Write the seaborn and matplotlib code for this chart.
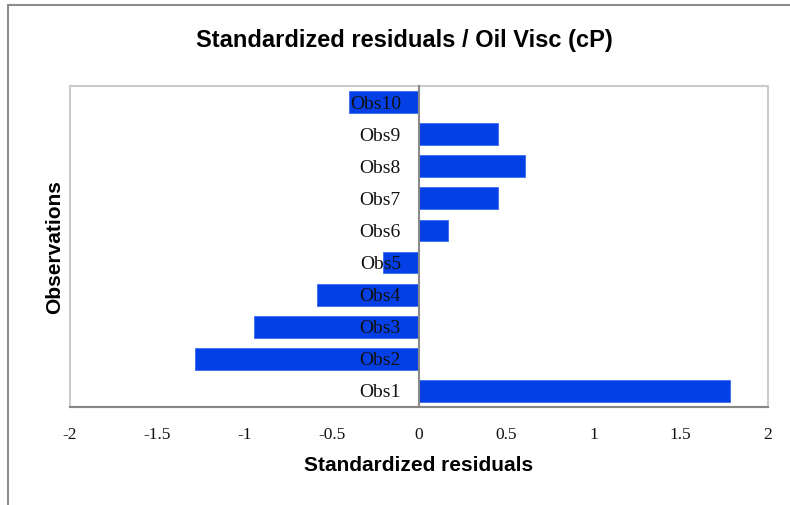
import matplotlib
matplotlib.use("Agg")
import matplotlib.pyplot as plt
from matplotlib.patches import Rectangle
from matplotlib.lines import Line2D
import pandas as pd
import seaborn as sns

observations = ["Obs1", "Obs2", "Obs3", "Obs4", "Obs5",
                "Obs6", "Obs7", "Obs8", "Obs9", "Obs10"]
residuals = [1.782, -1.284, -0.944, -0.586, -0.208,
             0.166, 0.455, 0.606, 0.451, -0.403]
xticks = [-2, -1.5, -1, -0.5, 0, 0.5, 1, 1.5, 2]
xticklabels = ["-2", "-1.5", "-1", "-0.5", "0", "0.5", "1", "1.5", "2"]

df = pd.DataFrame({"obs": observations, "res": residuals})

sns.set_theme(style="white")
plt.rcParams["font.family"] = ["Liberation Sans", "DejaVu Sans"]
plt.rcParams["text.color"] = "black"

fig = plt.figure(figsize=(7.9, 5.05), dpi=100)
ax = fig.add_axes([70 / 790, 98 / 505, 698 / 790, 321 / 505])

sns.barplot(data=df, x="res", y="obs", orient="h", order=observations[::-1],
            color="#0540E6", saturation=1, width=0.68,
            edgecolor="#3a6cf0", linewidth=0.6, ax=ax)

ax.set_axisbelow(False)
ax.set_xlim(-2, 2)
ax.set_xticks(xticks)
ax.set_xticklabels(xticklabels)
ax.tick_params(axis="x", direction="inout", length=9, width=1.3,
               color="#868686", pad=10, labelsize=12.5,
               labelfontfamily="Liberation Serif", labelcolor="#111111")
ax.tick_params(axis="y", length=0, pad=13, labelsize=14,
               labelfontfamily="Liberation Serif", labelcolor="#111111")

# plot area border
ax.add_patch(Rectangle((0, 0), 1, 1, transform=ax.transAxes, fill=False,
                       edgecolor="#cbcbcb", linewidth=1.5, clip_on=False, zorder=0))
ax.spines["top"].set_visible(False)
ax.spines["right"].set_visible(False)
ax.spines["left"].set_position(("data", 0))
ax.spines["left"].set_color("#8a8a8a")
ax.spines["left"].set_linewidth(1.5)
ax.spines["bottom"].set_color("#868686")
ax.spines["bottom"].set_linewidth(1.5)

ax.set_xlabel("Standardized residuals", fontsize=15, fontweight="bold",
              labelpad=9, color="black")
ax.set_ylabel("")
fig.text(55 / 790, 1 - 247 / 505, "Observations", rotation=90, fontsize=15,
         fontweight="bold", ha="center", va="center", color="black")
fig.text(404 / 790, 1 - 41 / 505, "Standardized residuals / Oil Visc (cP)",
         fontsize=17, fontweight="bold", ha="center", va="center", color="black")

# chart border (left and top)
fig.add_artist(Line2D([8 / 790, 8 / 790], [0, 1 - 5 / 505],
                      transform=fig.transFigure, color="#8c8c8c", linewidth=1.5))
fig.add_artist(Line2D([8 / 790, 1], [1 - 5 / 505, 1 - 5 / 505],
                      transform=fig.transFigure, color="#8c8c8c", linewidth=1.5))

fig.savefig("out.png", dpi=100)
